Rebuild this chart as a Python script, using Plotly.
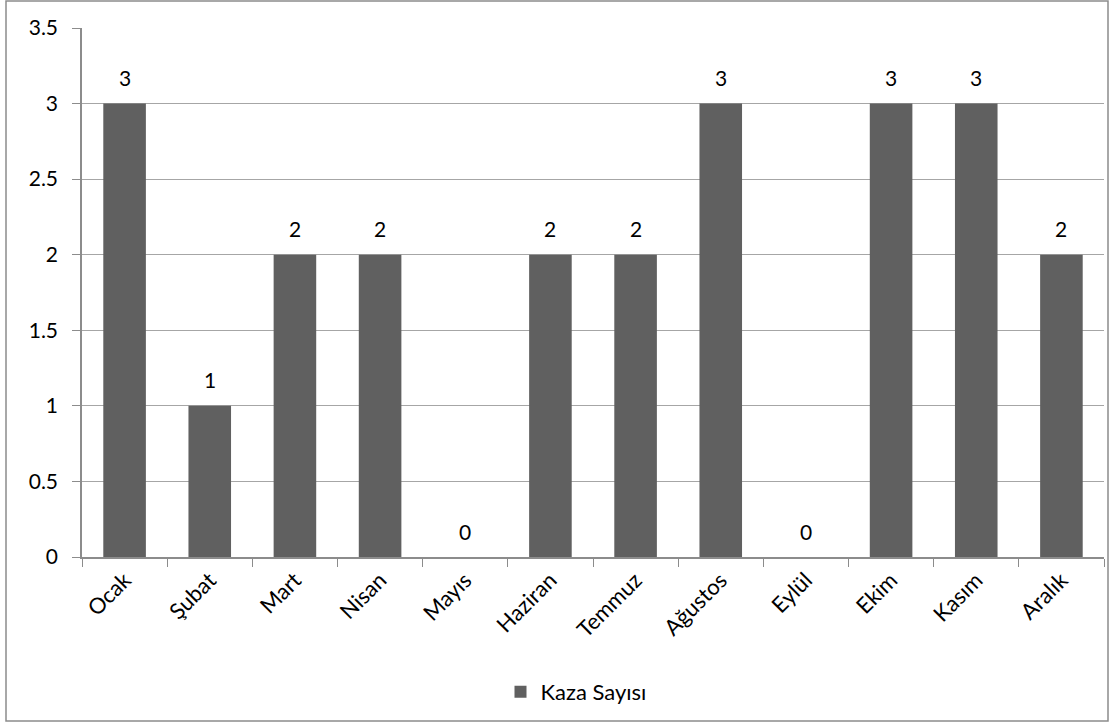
import plotly.graph_objects as go

months = ["Ocak", "Şubat", "Mart", "Nisan", "Mayıs", "Haziran", "Temmuz",
          "Ağustos", "Eylül", "Ekim", "Kasım", "Aralık"]
kaza = [3, 1, 2, 2, 0, 2, 2, 3, 0, 3, 3, 2]
series_name = "Kaza Sayısı"

FONT = "Lato"
FS = 21
W, H = 1115, 724
L, R, T, B = 82, 11, 28, 167
pw = W - L - R
ph = H - T - B

fig = go.Figure()
fig.add_trace(go.Bar(
    x=months, y=kaza, name=series_name,
    marker=dict(color="#606060", line=dict(width=0)),
    width=0.5,
))

for m, v in zip(months, kaza):
    fig.add_annotation(x=m, y=v, text=str(v), showarrow=False,
                       yanchor="middle", yshift=26,
                       font=dict(family=FONT, size=FS, color="#000"))

def px_x(p):
    return (p - L) / pw

def px_y(p):
    return (H - B - p) / ph

fig.add_shape(type="rect", xref="paper", yref="paper",
              x0=px_x(6), x1=px_x(1108), y0=px_y(721), y1=px_y(1),
              line=dict(color="#8c8c8c", width=1.5), fillcolor="rgba(0,0,0,0)",
              layer="below")

fig.update_layout(
    width=W, height=H,
    margin=dict(l=L, r=R, t=T, b=B),
    paper_bgcolor="white", plot_bgcolor="white",
    font=dict(family=FONT, size=FS, color="#000"),
    showlegend=True,
    legend=dict(orientation="h", x=px_x(576), y=px_y(692),
                xanchor="center", yanchor="middle",
                font=dict(family=FONT, size=22, color="#000")),
    bargap=0.5,
)
fig.update_xaxes(
    type="category", tickangle=-45, tickson="boundaries",
    ticks="outside", ticklen=8, tickcolor="#8c8c8c",
    showline=True, linecolor="#8c8c8c", linewidth=1.5,
    showgrid=False, tickfont=dict(family=FONT, size=22),
)
fig.update_yaxes(
    range=[0, 3.5], dtick=0.5, tick0=0,
    ticks="outside", ticklen=8, tickcolor="#8c8c8c",
    showline=True, linecolor="#8c8c8c", linewidth=1.5,
    showgrid=True, gridcolor="#a6a6a6", gridwidth=1,
    zeroline=False, ticklabelstandoff=10,
    tickfont=dict(family=FONT, size=FS),
)

fig.write_html("out.html", config={"displayModeBar": False},
               post_script="document.body.style.margin='0';")
